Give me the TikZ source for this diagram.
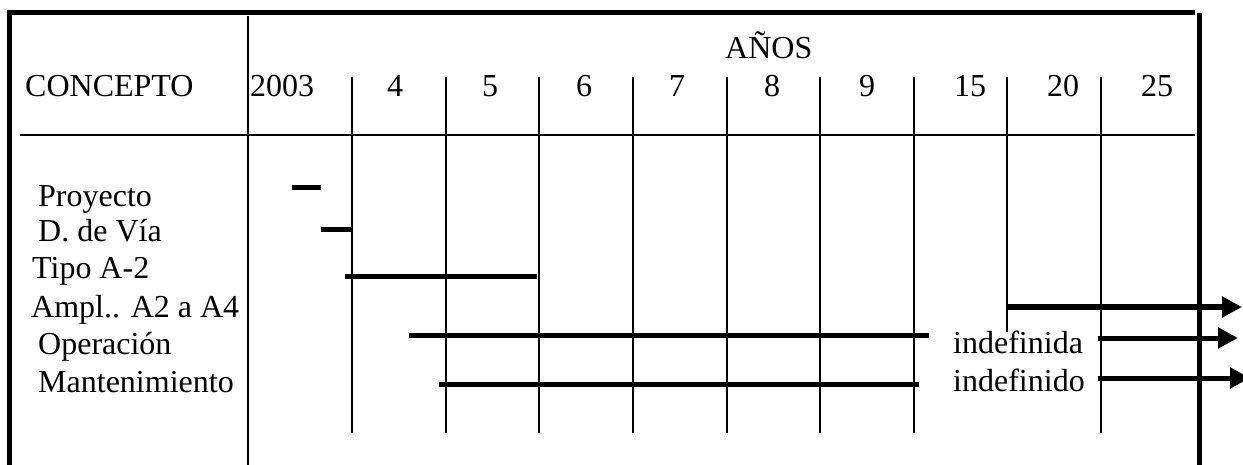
\documentclass[tikz,border=0pt]{standalone}
\usepackage{fontspec}
\setmainfont{Liberation Serif}
\usetikzlibrary{arrows.meta}
\begin{document}
\begin{tikzpicture}[x=1pt,y=-1pt,
  frame/.style={line width=5pt},
  rule/.style={line width=2.5pt},
  gridline/.style={line width=1.4pt},
  bar/.style={line width=5pt},
  arr/.style={line width=5pt,-{Triangle[length=20pt,width=20pt]}},
  lbl/.style={inner sep=0pt,anchor=base west,font=\fontsize{32}{38}\selectfont},
  yr/.style={inner sep=0pt,anchor=base,font=\fontsize{32}{38}\selectfont}]
\useasboundingbox (0,0) rectangle (1243,465);
% frame
\draw[frame] (7,12.5) -- (1195,12.5);
\draw[frame] (9.5,10) -- (9.5,470);
\draw[frame] (1199,13) -- (1199,470);
% header rule and main divider
\draw[rule] (20,135) -- (1195,135);
\draw[gridline] (248,16) -- (248,470);
% year grid lines
\foreach \x in {352,446,539,633,727,820,914,1101}
  \draw[gridline] (\x,77) -- (\x,433);
\draw[gridline] (1007,77) -- (1007,332);
% header texts
\node[lbl] (concepto) at (25,97) {CONCEPTO};
\node[lbl] (anos) at (725,59) {AÑOS};
\node[lbl] (y2003) at (250,97) {2003};
\node[yr] (y4) at (395,97) {4};
\node[yr] (y5) at (490,97) {5};
\node[yr] (y6) at (584,97) {6};
\node[yr] (y7) at (677,97) {7};
\node[yr] (y8) at (772,97) {8};
\node[yr] (y9) at (867,97) {9};
\node[yr] (y15) at (970,97) {15};
\node[yr] (y20) at (1063,97) {20};
\node[yr] (y25) at (1157,97) {25};
% row labels
\node[lbl] (proy) at (38,207) {Proyecto};
\node[lbl] (dvia) at (38,242) {D. de Vía};
\node[lbl] (tipo) at (32,279) {Tipo A-2};
\node[lbl] (ampl) at (31,317) {Ampl.. A2 a A4};
\node[lbl] (oper) at (38,354) {Operación};
\node[lbl] (mant) at (38,392) {Mantenimiento};
\node[lbl] (indefa) at (953,353) {indefinida};
\node[lbl] (indefo) at (953,391) {indefinido};
% bars
\draw[bar] (292,188) -- (321,188);
\draw[bar] (321,230) -- (351,230);
\draw[bar] (345,277) -- (537,277);
\draw[arr] (1008,307) -- (1242,307);
\draw[bar] (409,335) -- (929,335);
\draw[arr] (1098,338) -- (1238,338);
\draw[bar] (439,384) -- (919,384);
\draw[arr] (1098,378) -- (1250,378);
\end{tikzpicture}
\end{document}
